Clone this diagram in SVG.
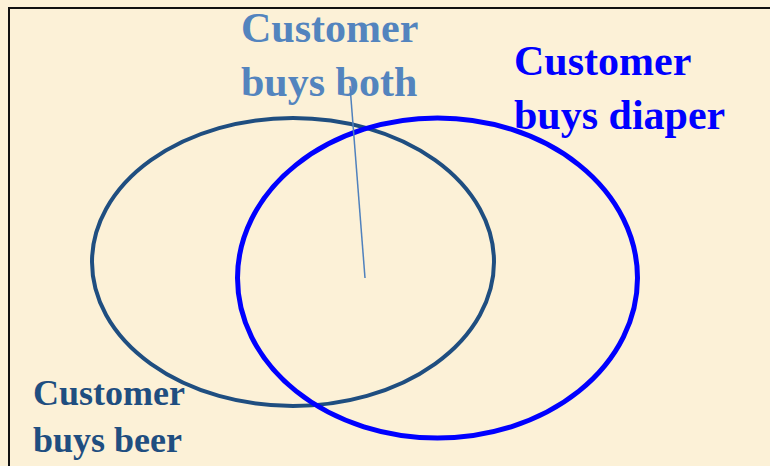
<svg xmlns="http://www.w3.org/2000/svg" width="770" height="466" viewBox="0 0 770 466">
  <style>
    .lbl { font-family: "Liberation Serif", "Times New Roman", serif; font-weight: bold; }
    .both { fill: #5384BE; font-size: 42px; }
    .diaper { fill: #0000FF; font-size: 42px; }
    .beer { fill: #1F4E80; font-size: 36px; }
  </style>
  <!-- parchment background -->
  <rect x="0" y="0" width="770" height="466" fill="#FCF1D7"/>
  <rect x="9" y="8" width="800" height="500" fill="none" stroke="#111" stroke-width="2"/>

  <g id="set-beer">
    <ellipse cx="293" cy="262" rx="201" ry="144" fill="none" stroke="#1F4E80" stroke-width="4"/>
    <text class="lbl beer" x="33" y="405">Customer</text>
    <text class="lbl beer" x="33" y="452">buys beer</text>
  </g>

  <g id="set-diaper">
    <ellipse cx="437.5" cy="278" rx="200" ry="160" fill="none" stroke="#0000FF" stroke-width="5"/>
    <text class="lbl diaper" x="514" y="75">Customer</text>
    <text class="lbl diaper" x="514" y="129">buys diaper</text>
  </g>

  <g id="label-both">
    <text class="lbl both" x="241" y="42">Customer</text>
    <text class="lbl both" x="241" y="96">buys both</text>
  </g>

  <g id="connectors">
    <line x1="350" y1="86" x2="365" y2="278" stroke="#4F81BD" stroke-width="1.5"/>
  </g>
</svg>
